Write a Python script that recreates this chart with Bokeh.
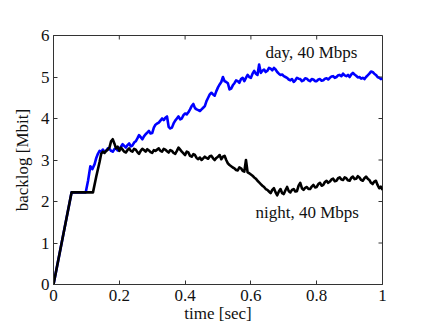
from bokeh.plotting import figure
from bokeh.models import FixedTicker, Range1d
from bokeh.embed import file_html
from bokeh.resources import INLINE
from bokeh.core.properties import value

# ---- data ----
night_t = [0.0, 0.055, 0.12, 0.13, 0.14, 0.145,
           0.150, 0.155, 0.160, 0.165, 0.170, 0.175, 0.180, 0.185, 0.190, 0.195,
           0.200, 0.205, 0.210, 0.215, 0.220, 0.225, 0.230, 0.235, 0.240, 0.245,
           0.250, 0.255, 0.260, 0.265, 0.270, 0.275, 0.280, 0.285, 0.290, 0.295,
           0.300, 0.305, 0.310, 0.315, 0.320, 0.325, 0.330, 0.335, 0.340, 0.345,
           0.350, 0.355, 0.360, 0.365, 0.370, 0.375, 0.380, 0.385, 0.390, 0.395,
           0.400, 0.405, 0.410, 0.415, 0.420, 0.425, 0.430, 0.435, 0.440, 0.445,
           0.450, 0.455, 0.460, 0.465, 0.470, 0.475, 0.480, 0.485, 0.490, 0.495,
           0.500, 0.505, 0.510, 0.515, 0.520, 0.525, 0.530, 0.535, 0.540, 0.545,
           0.550, 0.555, 0.560, 0.565, 0.570, 0.575, 0.580, 0.585, 0.590, 0.595,
           0.600, 0.605, 0.610, 0.615, 0.620, 0.625, 0.630, 0.635, 0.640, 0.645,
           0.650, 0.655, 0.660, 0.665, 0.670, 0.675, 0.680, 0.685, 0.690, 0.695,
           0.700, 0.705, 0.710, 0.715, 0.720, 0.725, 0.730, 0.735, 0.740, 0.745,
           0.750, 0.755, 0.760, 0.765, 0.770, 0.775, 0.780, 0.785, 0.790, 0.795,
           0.800, 0.805, 0.810, 0.815, 0.820, 0.825, 0.830, 0.835, 0.840, 0.845,
           0.850, 0.855, 0.860, 0.865, 0.870, 0.875, 0.880, 0.885, 0.890, 0.895,
           0.900, 0.905, 0.910, 0.915, 0.920, 0.925, 0.930, 0.935, 0.940, 0.945,
           0.950, 0.955, 0.960, 0.965, 0.970, 0.975, 0.980, 0.985, 0.990, 0.995,
           1.000]
night_v = [0.0, 2.22, 2.22, 2.6, 2.95, 3.15,
           3.20, 3.17, 3.22, 3.25, 3.30, 3.45, 3.50, 3.40, 3.28, 3.32,
           3.22, 3.30, 3.25, 3.20, 3.18, 3.24, 3.28, 3.22, 3.20, 3.27,
           3.25, 3.19, 3.15, 3.22, 3.27, 3.24, 3.20, 3.26, 3.23, 3.19,
           3.17, 3.24, 3.22, 3.25, 3.28, 3.22, 3.20, 3.27, 3.25, 3.21,
           3.18, 3.24, 3.22, 3.17, 3.15, 3.22, 3.30, 3.25, 3.20, 3.16,
           3.12, 3.20, 3.18, 3.10, 3.08, 3.14, 3.12, 3.05, 3.02, 3.06,
           3.00, 3.04, 3.08, 3.05, 3.03, 3.09, 3.10, 3.04, 3.00, 3.05,
           3.08, 3.12, 3.02, 3.08, 3.10, 3.00, 2.92, 2.88, 2.85, 2.82,
           2.80, 2.76, 2.75, 2.82, 2.80, 2.74, 2.72, 3.00, 2.70, 2.68,
           2.65, 2.62, 2.58, 2.55, 2.50, 2.46, 2.42, 2.38, 2.35, 2.30,
           2.28, 2.24, 2.20, 2.28, 2.32, 2.22, 2.15, 2.24, 2.30, 2.20,
           2.18, 2.27, 2.35, 2.25, 2.22, 2.28, 2.30, 2.24, 2.25, 2.38,
           2.45, 2.32, 2.28, 2.33, 2.35, 2.30, 2.30, 2.36, 2.40, 2.34,
           2.35, 2.42, 2.45, 2.38, 2.40, 2.47, 2.50, 2.45, 2.48, 2.53,
           2.55, 2.49, 2.50, 2.56, 2.58, 2.53, 2.52, 2.58, 2.56, 2.51,
           2.50, 2.57, 2.60, 2.54, 2.55, 2.61, 2.58, 2.52, 2.50, 2.56,
           2.60, 2.55, 2.52, 2.45, 2.42, 2.48, 2.50, 2.40, 2.32, 2.36,
           2.28]

day_t = [0.0, 0.055, 0.098, 0.105, 0.112, 0.118, 0.125, 0.13, 0.135, 0.14, 0.145,
         0.150, 0.155, 0.160, 0.165, 0.170, 0.175, 0.180, 0.185, 0.190, 0.195,
         0.200, 0.205, 0.210, 0.215, 0.220, 0.225, 0.230, 0.235, 0.240, 0.245,
         0.250, 0.255, 0.260, 0.265, 0.270, 0.275, 0.280, 0.285, 0.290, 0.295,
         0.300, 0.305, 0.310, 0.315, 0.320, 0.325, 0.330, 0.335, 0.340, 0.345,
         0.350, 0.355, 0.360, 0.365, 0.370, 0.375, 0.380, 0.385, 0.390, 0.395,
         0.400, 0.405, 0.410, 0.415, 0.420, 0.425, 0.430, 0.435, 0.440, 0.445,
         0.450, 0.455, 0.460, 0.465, 0.470, 0.475, 0.480, 0.485, 0.490, 0.495,
         0.500, 0.505, 0.510, 0.515, 0.520, 0.525, 0.530, 0.535, 0.540, 0.545,
         0.550, 0.555, 0.560, 0.565, 0.570, 0.575, 0.580, 0.585, 0.590, 0.595,
         0.600, 0.605, 0.610, 0.615, 0.620, 0.625, 0.630, 0.635, 0.640, 0.645,
         0.650, 0.655, 0.660, 0.665, 0.670, 0.675, 0.680, 0.685, 0.690, 0.695,
         0.700, 0.705, 0.710, 0.715, 0.720, 0.725, 0.730, 0.735, 0.740, 0.745,
         0.750, 0.755, 0.760, 0.765, 0.770, 0.775, 0.780, 0.785, 0.790, 0.795,
         0.800, 0.805, 0.810, 0.815, 0.820, 0.825, 0.830, 0.835, 0.840, 0.845,
         0.850, 0.855, 0.860, 0.865, 0.870, 0.875, 0.880, 0.885, 0.890, 0.895,
         0.900, 0.905, 0.910, 0.915, 0.920, 0.925, 0.930, 0.935, 0.940, 0.945,
         0.950, 0.955, 0.960, 0.965, 0.970, 0.975, 0.980, 0.985, 0.990, 0.995,
         1.000]
day_v = [0.0, 2.22, 2.22, 2.5, 2.85, 2.78, 2.9, 3.05, 3.15, 3.22, 3.20,
         3.25, 3.20, 3.22, 3.28, 3.27, 3.22, 3.20, 3.26, 3.28, 3.23,
         3.25, 3.32, 3.38, 3.34, 3.30, 3.36, 3.40, 3.33, 3.35, 3.42,
         3.45, 3.52, 3.60, 3.55, 3.50, 3.57, 3.62, 3.66, 3.70, 3.64,
         3.65, 3.78, 3.85, 3.88, 3.90, 3.95, 4.00, 3.96, 4.02, 4.05,
         3.80, 3.76, 3.78, 3.88, 3.95, 4.00, 4.05, 3.98, 4.00, 4.08,
         4.12, 4.10, 4.15, 4.22, 4.30, 4.35, 4.25, 4.22, 4.20, 4.18,
         4.22, 4.26, 4.30, 4.42, 4.50, 4.58, 4.62, 4.58, 4.55, 4.66,
         4.75, 4.82, 4.88, 5.00, 4.90, 4.88, 4.85, 4.70, 4.72, 4.80,
         4.85, 4.92, 4.90, 4.86, 4.95, 4.98, 4.90, 4.98, 5.05, 5.00,
         4.98, 5.08, 5.15, 5.08, 5.05, 5.30, 5.10, 5.15, 5.18, 5.12,
         5.15, 5.22, 5.20, 5.16, 5.22, 5.18, 5.12, 5.08, 5.05, 5.06,
         5.02, 5.00, 4.98, 4.94, 4.92, 4.95, 4.88, 4.92, 4.98, 4.96,
         4.95, 4.90, 4.92, 4.97, 4.96, 4.92, 4.90, 4.95, 4.94, 4.90,
         4.90, 4.94, 4.95, 4.91, 4.92, 4.96, 4.97, 4.94, 4.98, 5.01,
         5.02, 4.98, 5.00, 5.04, 5.05, 5.02, 5.08, 5.04, 5.02, 5.05,
         5.00, 5.06, 5.10, 5.06, 5.03, 4.99, 5.00, 4.96, 4.98, 4.95,
         5.00, 5.04, 5.08, 5.13, 5.12, 5.08, 5.05, 5.00, 4.98, 4.95,
         4.97]

x_ticks = [0, 0.2, 0.4, 0.6, 0.8, 1]
y_ticks = [0, 1, 2, 3, 4, 5, 6]
x_tick_labels = {0: "0", 0.2: "0.2", 0.4: "0.4", 0.6: "0.6", 0.8: "0.8", 1: "1"}
labels = ["day, 40 Mbps", "night, 40 Mbps"]
label_x = [0.784, 0.771]
label_y = [5.59, 1.74]

FONT = "Liberation Serif"
FW, FH = 329, 249
X0, X1, Y0, Y1 = 0, 1, 0, 6

p = figure(frame_width=FW, frame_height=FH, output_backend="svg", toolbar_location=None,
           x_range=Range1d(X0, X1), y_range=Range1d(Y0, Y1),
           min_border_left=53, min_border_top=35, min_border_right=26, min_border_bottom=5,
           x_axis_label="time [sec]", y_axis_label="backlog [Mbit]")
p.background_fill_color = "white"
p.border_fill_color = "white"
p.outline_line_color = "#333333"
p.xgrid.visible = False
p.ygrid.visible = False

p.line(day_t, day_v, line_color="#0000ff", line_width=2.6, line_join="round")
p.line(night_t, night_v, line_color="black", line_width=2.6, line_join="round")

p.text(x=label_x, y=label_y, text=labels, text_align="center", text_baseline="middle",
       text_font=value(FONT), text_font_size="17px", text_color="#111111")

for ax in (p.xaxis[0], p.yaxis[0]):
    ax.major_label_text_font = FONT
    ax.major_label_text_font_size = "17px"
    ax.major_label_text_color = "#111111"
    ax.axis_label_text_font = FONT
    ax.axis_label_text_font_size = "17px"
    ax.axis_label_text_font_style = "normal"
    ax.axis_label_text_color = "#111111"
    ax.major_tick_in = 4
    ax.major_tick_out = 0
    ax.minor_tick_in = 0
    ax.minor_tick_out = 0
    ax.axis_line_color = "#333333"
    ax.major_tick_line_color = "#333333"

p.xaxis[0].ticker = FixedTicker(ticks=x_ticks)
p.xaxis[0].major_label_overrides = x_tick_labels
p.xaxis[0].major_label_standoff = 5
p.xaxis[0].axis_label_standoff = 0
p.yaxis[0].ticker = FixedTicker(ticks=y_ticks)
p.yaxis[0].major_label_standoff = 4
p.yaxis[0].axis_label_standoff = 6

# mirrored inward ticks on top and right edges
tick_len_y = 4 * (Y1 - Y0) / FH
tick_len_x = 4 * (X1 - X0) / FW
p.segment(x0=x_ticks, y0=[Y1] * len(x_ticks), x1=x_ticks, y1=[Y1 - tick_len_y] * len(x_ticks),
          line_color="#333333", line_width=1)
p.segment(x0=[X1] * len(y_ticks), y0=y_ticks, x1=[X1 - tick_len_x] * len(y_ticks), y1=y_ticks,
          line_color="#333333", line_width=1)

open("out.html", "w").write(file_html(p, INLINE))
